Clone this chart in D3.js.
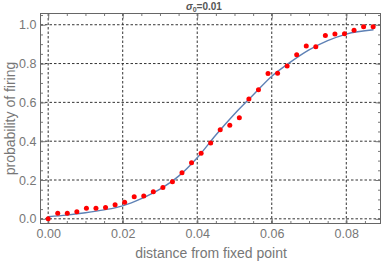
<!DOCTYPE html>
<html>
<head>
<meta charset="utf-8">
<script src="https://cdn.jsdelivr.net/npm/d3@7"></script>
<style>
  body { margin: 0; background: #fff; }
  svg { display: block; font-family: "Liberation Sans", Arial, sans-serif; }
</style>
</head>
<body>
<script>
// measured firing probability, one point every ~0.00257
var distances = d3.range(35).map(function(i) { return i * 0.002565; });
var probs = [0.0, 0.029, 0.029, 0.036, 0.054, 0.054, 0.058, 0.072, 0.085, 0.114,
             0.118, 0.140, 0.162, 0.191, 0.237, 0.289, 0.338, 0.391, 0.459, 0.482,
             0.521, 0.617, 0.665, 0.749, 0.750, 0.788, 0.846, 0.890, 0.887, 0.944,
             0.952, 0.954, 0.971, 0.990, 0.990];

// fitted curve
var fitX = [0, 0.005, 0.01, 0.015, 0.02, 0.025, 0.03, 0.035, 0.04, 0.045,
            0.05, 0.055, 0.06, 0.065, 0.07, 0.075, 0.08, 0.0873];
var fitY = [0.011, 0.019, 0.031, 0.046, 0.067, 0.104, 0.153, 0.220, 0.315, 0.432,
            0.540, 0.638, 0.735, 0.807, 0.870, 0.918, 0.952, 0.974];

var xTicks = [0, 0.02, 0.04, 0.06, 0.08];
var yTicks = [0, 0.2, 0.4, 0.6, 0.8, 1.0];

var W = 382, H = 263;
var m = {left: 40.5, top: 13.5, right: 1.5, bottom: 39.5};

var svg = d3.select("body").append("svg")
  .attr("width", W)
  .attr("height", H);

var x = d3.scaleLinear().domain([-0.00206, 0.08918]).range([m.left, W - m.right]);
var y = d3.scaleLinear().domain([-0.0241, 1.0579]).range([H - m.bottom, m.top]);

//grid
svg.append("g").selectAll("line")
  .data(xTicks).enter().append("line")
  .attr("x1", function(d) { return x(d); })
  .attr("x2", function(d) { return x(d); })
  .attr("y1", m.top).attr("y2", H - m.bottom)
  .attr("stroke", "#333").attr("stroke-width", 1)
  .attr("stroke-dasharray", "2.5,2");

svg.append("g").selectAll("line")
  .data(yTicks).enter().append("line")
  .attr("y1", function(d) { return y(d); })
  .attr("y2", function(d) { return y(d); })
  .attr("x1", m.left).attr("x2", W - m.right)
  .attr("stroke", "#333").attr("stroke-width", 1)
  .attr("stroke-dasharray", "2.5,2");

//axes with inward ticks
var xMinor = d3.range(0, 0.0891, 0.005);
var yMinor = d3.range(0, 1.051, 0.05);

function tickG(sel, axis) {
  sel.call(axis);
  sel.select(".domain").remove();
  sel.selectAll("line").attr("stroke", "#777");
  sel.selectAll("text").attr("fill", "#777").style("font-size", "12.5px");
}

svg.append("g").attr("transform", "translate(0," + (H - m.bottom) + ")")
  .call(tickG, d3.axisBottom(x).tickValues(xMinor).tickSize(-2.5).tickFormat(""));
svg.append("g").attr("transform", "translate(0," + (H - m.bottom) + ")")
  .call(tickG, d3.axisBottom(x).tickValues(xTicks).tickSize(-5).tickPadding(5.5).tickFormat(d3.format(".2f")));
svg.append("g").attr("transform", "translate(0," + m.top + ")")
  .call(tickG, d3.axisTop(x).tickValues(xMinor).tickSize(-2.5).tickFormat(""));
svg.append("g").attr("transform", "translate(0," + m.top + ")")
  .call(tickG, d3.axisTop(x).tickValues(xTicks).tickSize(-5).tickFormat(""));

svg.append("g").attr("transform", "translate(" + m.left + ",0)")
  .call(tickG, d3.axisLeft(y).tickValues(yMinor).tickSize(-2.5).tickFormat(""));
svg.append("g").attr("transform", "translate(" + m.left + ",0)")
  .call(tickG, d3.axisLeft(y).tickValues(yTicks).tickSize(-5).tickPadding(4).tickFormat(d3.format(".1f")));
svg.append("g").attr("transform", "translate(" + (W - m.right) + ",0)")
  .call(tickG, d3.axisRight(y).tickValues(yMinor).tickSize(-2.5).tickFormat(""));
svg.append("g").attr("transform", "translate(" + (W - m.right) + ",0)")
  .call(tickG, d3.axisRight(y).tickValues(yTicks).tickSize(-5).tickFormat(""));

//frame
svg.append("rect")
  .attr("x", m.left).attr("y", m.top)
  .attr("width", W - m.right - m.left).attr("height", H - m.bottom - m.top)
  .attr("fill", "none").attr("stroke", "#666").attr("stroke-width", 1);

//fit curve
var line = d3.line()
  .x(function(d) { return x(d[0]); })
  .y(function(d) { return y(d[1]); })
  .curve(d3.curveMonotoneX);

svg.append("path")
  .datum(d3.zip(fitX, fitY))
  .attr("d", line)
  .attr("fill", "none")
  .attr("stroke", "#5E81B5")
  .attr("stroke-width", 1.4);

//points
svg.append("g").selectAll("circle")
  .data(d3.zip(distances, probs)).enter().append("circle")
  .attr("cx", function(d) { return x(d[0]); })
  .attr("cy", function(d) { return y(d[1]); })
  .attr("r", 2.5)
  .attr("fill", "#ff0000");

//labels
svg.append("text")
  .attr("x", 211).attr("y", 258)
  .attr("text-anchor", "middle")
  .attr("fill", "#777").style("font-size", "14px")
  .text("distance from fixed point");

svg.append("text")
  .attr("transform", "translate(15," + ((m.top + H - m.bottom) / 2) + ") rotate(-90)")
  .attr("text-anchor", "middle")
  .attr("fill", "#777").style("font-size", "14px")
  .text("probability of firing");

var title = svg.append("text")
  .attr("x", 204).attr("y", 10)
  .attr("text-anchor", "middle")
  .attr("fill", "#555").style("font-size", "10px").style("font-weight", "bold");
title.append("tspan").style("font-style", "italic").text("σ");
title.append("tspan").attr("dy", 2).style("font-size", "7px").text("0");
title.append("tspan").attr("dy", -2).text("=0.01");
</script>
</body>
</html>
